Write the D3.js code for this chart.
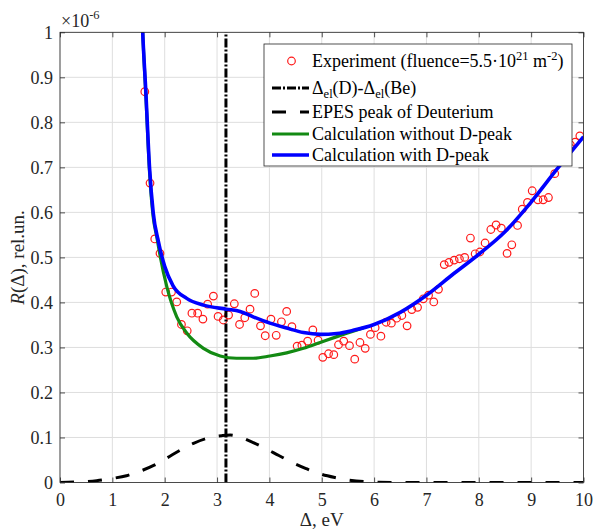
<!DOCTYPE html>
<html><head><meta charset="utf-8">
<script src="https://cdn.jsdelivr.net/npm/d3@7"></script>
<style>body{margin:0;background:#fff}</style>
</head><body>
<svg id="c" width="594" height="530"></svg>
<script>
// ---- data (R in units of 1e-6) ----
const expDelta=[1.62,1.72,1.81,1.91,2.02,2.13,2.23,2.32,2.43,2.52,2.63,2.73,2.82,2.93,3.02,3.12,3.22,3.33,3.43,3.53,3.63,3.72,3.83,3.92,4.03,4.13,4.23,4.33,4.43,4.53,4.62,4.73,4.83,4.93,5.02,5.13,5.23,5.32,5.42,5.53,5.63,5.73,5.83,5.93,6.02,6.13,6.23,6.33,6.43,6.53,6.63,6.72,6.83,6.94,7.04,7.14,7.23,7.34,7.43,7.53,7.63,7.73,7.84,7.93,8.02,8.12,8.23,8.33,8.43,8.54,8.63,8.74,8.83,8.93,9.02,9.13,9.23,9.33,9.45,9.54,9.64,9.75,9.84,9.93];
const expR=[0.868,0.665,0.541,0.509,0.423,0.423,0.401,0.351,0.337,0.376,0.376,0.363,0.396,0.414,0.369,0.361,0.372,0.397,0.351,0.366,0.385,0.420,0.348,0.326,0.363,0.327,0.357,0.380,0.346,0.303,0.305,0.314,0.339,0.316,0.278,0.286,0.284,0.306,0.314,0.304,0.274,0.311,0.298,0.329,0.344,0.325,0.356,0.354,0.365,0.371,0.348,0.384,0.389,0.408,0.416,0.401,0.429,0.484,0.489,0.494,0.497,0.500,0.543,0.508,0.512,0.532,0.562,0.572,0.565,0.509,0.528,0.571,0.607,0.622,0.648,0.628,0.628,0.633,0.686,0.715,0.730,0.750,0.756,0.770];

const withPeakDelta=[1.56,1.58,1.64,1.71,1.78,1.88,2.00,2.16,2.42,2.74,3.18,3.44,3.69,4.01,4.33,4.65,4.97,5.29,5.60,6.00,6.50,7.00,7.50,8.00,8.50,9.00,9.50,10.0];
const withPeakR=[1.06,1.00,0.867,0.700,0.600,0.535,0.480,0.437,0.409,0.394,0.385,0.380,0.368,0.354,0.343,0.333,0.329,0.331,0.338,0.351,0.378,0.416,0.462,0.507,0.557,0.623,0.697,0.768];

const noPeakDelta=[1.56,1.58,1.64,1.71,1.78,1.85,1.91,2.04,2.23,2.42,2.74,3.06,3.37,3.69,4.01,4.33,4.65,4.97,5.29,5.60,5.80];
const noPeakR=[1.06,1.00,0.860,0.690,0.590,0.545,0.505,0.435,0.368,0.332,0.298,0.281,0.276,0.276,0.281,0.288,0.298,0.311,0.324,0.336,0.344];

const epesDelta=[0,0.3,0.7,1.0,1.27,1.55,1.81,2.05,2.30,2.55,2.80,3.09,3.25,3.41,3.65,3.92,4.18,4.43,4.70,4.97,5.25,5.51,5.80,6.08,6.5,7,8,9,10];
const epesR=[0,0.001,0.004,0.009,0.015,0.026,0.039,0.055,0.072,0.087,0.098,0.104,0.1055,0.102,0.091,0.076,0.060,0.045,0.031,0.019,0.011,0.0056,0.002,0.0004,0,0,0,0,0];

const splitDelta=3.17; // Δel(D)-Δel(Be)

const xTicks=[0,1,2,3,4,5,6,7,8,9,10];
const yTicks=[0,0.1,0.2,0.3,0.4,0.5,0.6,0.7,0.8,0.9,1];
const yTickLabels=["0","0.1","0.2","0.3","0.4","0.5","0.6","0.7","0.8","0.9","1"];

// ---- layout ----
const FONT="'Liberation Serif', serif";
const L=60,R=583.5,T=32.3,B=482.5;
const svg=d3.select("#c");
const x=d3.scaleLinear().domain([0,10]).range([L,R]);
const y=d3.scaleLinear().domain([0,1]).range([B,T]);
const axCol="#262626";

svg.append("defs").append("clipPath").attr("id","pc")
  .append("rect").attr("x",L).attr("y",T).attr("width",R-L).attr("height",B-T);

// grid
const g=svg.append("g");
g.selectAll(".gx").data(xTicks).join("line")
  .attr("x1",d=>x(d)).attr("x2",d=>x(d)).attr("y1",T).attr("y2",B)
  .attr("stroke","#dedede").attr("stroke-width",1);
g.selectAll(".gy").data(yTicks).join("line")
  .attr("x1",L).attr("x2",R).attr("y1",d=>y(d)).attr("y2",d=>y(d))
  .attr("stroke","#dedede").attr("stroke-width",1);

const plot=svg.append("g").attr("clip-path","url(#pc)");

// experiment circles
plot.selectAll("circle").data(expDelta.map((d,i)=>[d,expR[i]])).join("circle")
  .attr("cx",d=>x(d[0])).attr("cy",d=>y(d[1])).attr("r",3.8)
  .attr("fill","none").attr("stroke","#ff1a1a").attr("stroke-width",1.2);

// vertical dash-dot line
plot.append("line").attr("x1",x(splitDelta)).attr("x2",x(splitDelta))
  .attr("y1",y(0)).attr("y2",y(1))
  .attr("stroke","#000").attr("stroke-width",3).attr("stroke-dasharray","9,2,2,2");

const line=d3.line().x(d=>x(d[0])).y(d=>y(d[1])).curve(d3.curveMonotoneX);

// EPES peak dashed
plot.append("path").datum(epesDelta.map((d,i)=>[d,epesR[i]]))
  .attr("d",line).attr("fill","none").attr("stroke","#000")
  .attr("stroke-width",3).attr("stroke-dasharray","14,14");

// green
plot.append("path").datum(noPeakDelta.map((d,i)=>[d,noPeakR[i]]))
  .attr("d",line).attr("fill","none").attr("stroke","#138a13").attr("stroke-width",3.2);
// blue
plot.append("path").datum(withPeakDelta.map((d,i)=>[d,withPeakR[i]]))
  .attr("d",line).attr("fill","none").attr("stroke","#0000ff").attr("stroke-width",3.6);

// axes box
svg.append("rect").attr("x",L).attr("y",T).attr("width",R-L).attr("height",B-T)
  .attr("fill","none").attr("stroke",axCol).attr("stroke-width",0.8);

const fs=18;
const ax=d3.axisBottom(x).tickValues(xTicks).tickFormat(d3.format("d")).tickSize(-5).tickPadding(11);
const axG=svg.append("g").attr("transform",`translate(0,${B})`).call(ax);
const axT=svg.append("g").attr("transform",`translate(0,${T})`).call(d3.axisTop(x).tickValues(xTicks).tickSize(-5).tickFormat(""));
const ay=d3.axisLeft(y).tickValues(yTicks).tickFormat((d,i)=>yTickLabels[i]).tickSize(-5).tickPadding(7);
const ayG=svg.append("g").attr("transform",`translate(${L},0)`).call(ay);
const ayR=svg.append("g").attr("transform",`translate(${R},0)`).call(d3.axisRight(y).tickValues(yTicks).tickSize(-5).tickFormat(""));
[axG,axT,ayG,ayR].forEach(a=>{
  a.attr("font-family",null).attr("font-size",null);
  a.select(".domain").remove();
  a.selectAll("line").attr("stroke",axCol).attr("stroke-width",0.8);
  a.selectAll("text").attr("fill",axCol).attr("font-size",fs).attr("font-family",FONT);
});

// exponent
const ex=svg.append("text").attr("x",61).attr("y",27).attr("fill",axCol).attr("font-size",fs).attr("font-family",FONT);
ex.append("tspan").text("\u00d710");
ex.append("tspan").attr("dy",-8).attr("font-size",12.5).text("-6");

// axis labels
svg.append("text").attr("x",(L+R)/2).attr("y",526).attr("text-anchor","middle")
  .attr("fill",axCol).attr("font-size",19).attr("font-family",FONT).text("\u0394, eV");
const yl=svg.append("text").attr("transform",`translate(24,${(T+B)/2}) rotate(-90)`)
  .attr("text-anchor","middle").attr("fill",axCol).attr("font-size",19).attr("font-family",FONT);
yl.append("tspan").attr("font-style","italic").text("R");
yl.append("tspan").text("(\u0394), rel.un.");

// legend
const lg=svg.append("g");
lg.append("rect").attr("x",264).attr("y",44).attr("width",308).attr("height",122)
  .attr("fill","#fff").attr("stroke",axCol).attr("stroke-width",0.8);
const rowsY=[61,88,112,134,155];
const lfs=18;
function addText(yc,parts){
  const t=lg.append("text").attr("x",312).attr("y",yc+6).attr("fill","#000").attr("font-size",lfs).attr("font-family",FONT);
  parts.forEach(p=>{
    const s=t.append("tspan").text(p.t);
    if(p.sup){s.attr("dy",-7).attr("font-size",12.5);}
    if(p.sub){s.attr("dy",4).attr("font-size",12.5);}
    if(p.back){s.attr("dy",p.back);}
  });
}
lg.append("circle").attr("cx",291.5).attr("cy",rowsY[0]).attr("r",3.8).attr("fill","none").attr("stroke","#ff1a1a").attr("stroke-width",1.2);
addText(rowsY[0],[{t:"Experiment (fluence=5.5\u00b710"},{t:"21",sup:true},{t:" m",back:7},{t:"-2",sup:true},{t:")",back:7}]);
lg.append("line").attr("x1",272).attr("x2",309).attr("y1",rowsY[1]).attr("y2",rowsY[1])
  .attr("stroke","#000").attr("stroke-width",3).attr("stroke-dasharray","9,2,2,2");
addText(rowsY[1],[{t:"\u0394"},{t:"el",sub:true},{t:"(D)-\u0394",back:-4},{t:"el",sub:true},{t:"(Be)",back:-4}]);
lg.append("line").attr("x1",272).attr("x2",309).attr("y1",rowsY[2]).attr("y2",rowsY[2])
  .attr("stroke","#000").attr("stroke-width",3).attr("stroke-dasharray","14,14");
addText(rowsY[2],[{t:"EPES peak of Deuterium"}]);
lg.append("line").attr("x1",272).attr("x2",309).attr("y1",rowsY[3]).attr("y2",rowsY[3])
  .attr("stroke","#138a13").attr("stroke-width",3.2);
addText(rowsY[3],[{t:"Calculation without D-peak"}]);
lg.append("line").attr("x1",272).attr("x2",309).attr("y1",rowsY[4]).attr("y2",rowsY[4])
  .attr("stroke","#0000ff").attr("stroke-width",3.6);
addText(rowsY[4],[{t:"Calculation with D-peak"}]);
</script>
</body></html>
